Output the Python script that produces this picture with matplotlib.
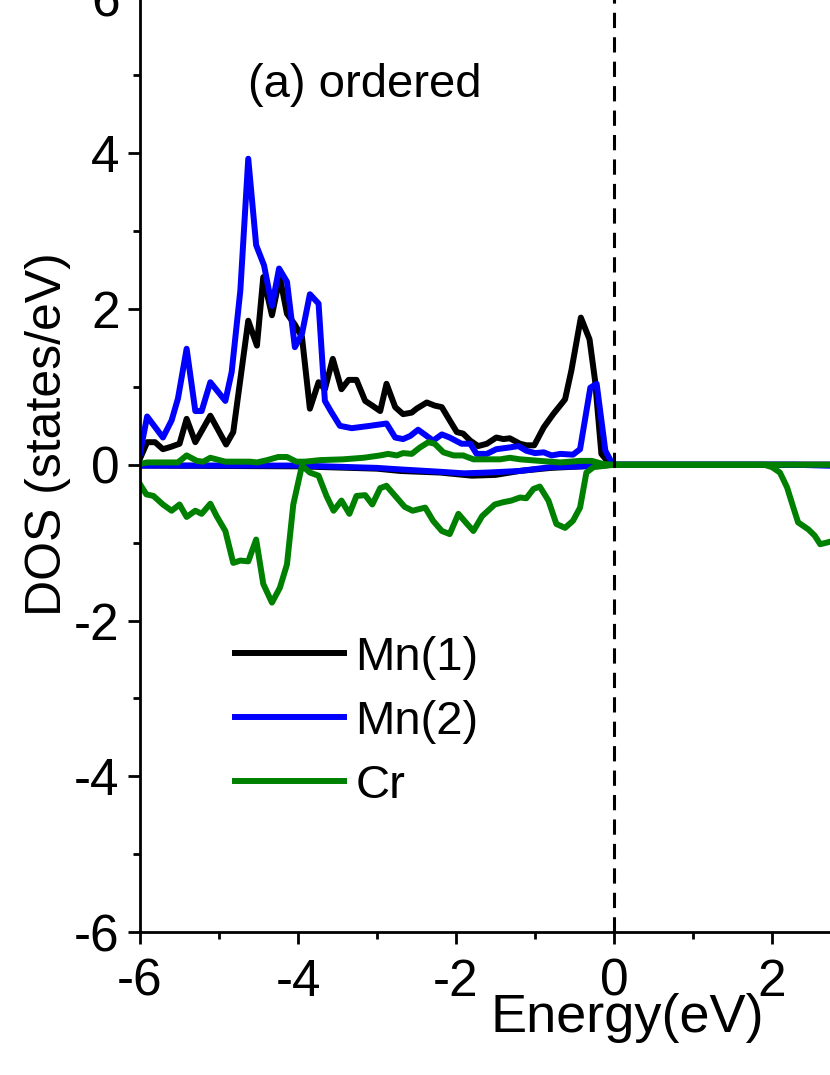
import numpy as np
import matplotlib
matplotlib.use('Agg')
import matplotlib.pyplot as plt

plt.rcParams['font.family'] = ['Liberation Sans', 'DejaVu Sans']
plt.rcParams['axes.unicode_minus'] = False

# Mn(1) spin up / down
e_mn1_up = [-6.0, -5.91, -5.81, -5.71, -5.61, -5.50, -5.41, -5.30, -5.11, -4.91, -4.82, -4.63, -4.52,
            -4.44, -4.33, -4.23, -4.14, -4.04, -3.95, -3.85, -3.74, -3.66, -3.56, -3.45, -3.36, -3.26,
            -3.15, -3.06, -2.96, -2.88, -2.77, -2.67, -2.56, -2.50, -2.37, -2.27, -2.18, -2.08, -1.99,
            -1.91, -1.82, -1.72, -1.61, -1.49, -1.40, -1.32, -1.19, -1.11, -1.01, -0.89, -0.77, -0.62,
            -0.54, -0.42, -0.31, -0.24, -0.16, -0.07, 0.0, 3.0]
dos_mn1_up = [0.08, 0.29, 0.29, 0.20, 0.23, 0.27, 0.59, 0.29, 0.63, 0.26, 0.42, 1.85, 1.53,
              2.41, 1.92, 2.41, 1.94, 1.80, 1.64, 0.72, 1.06, 0.97, 1.36, 0.97, 1.09, 1.09,
              0.82, 0.76, 0.69, 1.04, 0.74, 0.65, 0.67, 0.72, 0.80, 0.76, 0.74, 0.57, 0.42,
              0.40, 0.31, 0.24, 0.27, 0.35, 0.33, 0.34, 0.27, 0.25, 0.25, 0.48, 0.65, 0.84,
              1.21, 1.89, 1.61, 1.08, 0.14, 0.03, 0.0, 0.0]
e_mn1_dn = [-6.0, -4.0, -3.0, -2.7, -2.2, -1.8, -1.5, -1.2, -0.8, -0.4, 0.0, 3.0]
dos_mn1_dn = [-0.01, -0.02, -0.05, -0.08, -0.10, -0.14, -0.13, -0.08, -0.04, -0.02, 0.0, 0.0]

# Mn(2) spin up / down
e_mn2_up = [-6.0, -5.91, -5.71, -5.60, -5.52, -5.41, -5.30, -5.22, -5.11, -4.92, -4.84, -4.73, -4.63,
            -4.53, -4.43, -4.33, -4.24, -4.14, -4.04, -3.95, -3.85, -3.74, -3.66, -3.58, -3.47, -3.32,
            -3.09, -2.88, -2.77, -2.67, -2.58, -2.48, -2.29, -2.18, -2.08, -1.93, -1.82, -1.74, -1.61,
            -1.49, -1.34, -1.21, -1.11, -1.00, -0.89, -0.79, -0.68, -0.52, -0.43, -0.30, -0.22, -0.11,
            -0.03, 0.0, 3.0]
dos_mn2_up = [0.15, 0.62, 0.35, 0.57, 0.85, 1.49, 0.69, 0.69, 1.06, 0.82, 1.19, 2.24, 3.93,
              2.82, 2.56, 2.04, 2.52, 2.35, 1.51, 1.68, 2.19, 2.07, 0.82, 0.68, 0.50, 0.47,
              0.50, 0.53, 0.35, 0.33, 0.37, 0.45, 0.31, 0.39, 0.35, 0.27, 0.27, 0.14, 0.14,
              0.20, 0.22, 0.24, 0.18, 0.15, 0.16, 0.12, 0.14, 0.13, 0.20, 0.99, 1.04, 0.18,
              0.03, 0.0, 0.0]
e_mn2_dn = [-6.0, -4.0, -3.0, -2.7, -2.2, -1.9, -1.6, -1.2, -0.8, -0.4, 0.0, 2.3, 3.0]
dos_mn2_dn = [-0.01, -0.01, -0.04, -0.06, -0.09, -0.11, -0.10, -0.08, -0.03, -0.02, 0.0, 0.0, -0.02]

# Cr spin up / down
e_cr_up = [-6.0, -5.91, -5.52, -5.41, -5.28, -5.20, -5.11, -4.92, -4.61, -4.52, -4.39, -4.25, -4.14,
           -4.02, -3.91, -3.72, -3.43, -3.17, -2.96, -2.86, -2.75, -2.67, -2.56, -2.46, -2.35, -2.27,
           -2.16, -2.03, -1.91, -1.78, -1.44, -1.32, -1.19, -0.94, -0.68, -0.43, -0.28, -0.14, 0.0, 3.0]
dos_cr_up = [0.01, 0.03, 0.03, 0.12, 0.05, 0.04, 0.09, 0.04, 0.04, 0.03, 0.06, 0.10, 0.10,
             0.04, 0.04, 0.06, 0.07, 0.09, 0.12, 0.14, 0.12, 0.15, 0.14, 0.22, 0.29, 0.27,
             0.16, 0.12, 0.12, 0.07, 0.07, 0.09, 0.07, 0.05, 0.03, 0.05, 0.05, 0.01, 0.0, 0.0]
e_cr_dn = [-6.0, -5.92, -5.83, -5.71, -5.60, -5.50, -5.41, -5.30, -5.22, -5.11, -5.03, -4.92, -4.82,
           -4.73, -4.63, -4.53, -4.44, -4.33, -4.23, -4.14, -4.06, -3.95, -3.85, -3.74, -3.64, -3.55,
           -3.45, -3.35, -3.26, -3.15, -3.06, -2.96, -2.88, -2.77, -2.65, -2.55, -2.39, -2.29, -2.18,
           -2.08, -1.97, -1.86, -1.78, -1.67, -1.51, -1.40, -1.30, -1.19, -1.11, -1.02, -0.94, -0.83,
           -0.73, -0.62, -0.52, -0.43, -0.35, -0.26, 0.0, 1.90, 2.00, 2.10, 2.19, 2.27, 2.33, 2.46,
           2.54, 2.61, 2.69, 2.80, 3.0]
dos_cr_dn = [-0.25, -0.38, -0.40, -0.51, -0.59, -0.51, -0.67, -0.59, -0.63, -0.50, -0.66, -0.85, -1.26,
             -1.23, -1.24, -0.96, -1.53, -1.77, -1.58, -1.28, -0.51, -0.01, -0.10, -0.14, -0.40, -0.59,
             -0.46, -0.63, -0.40, -0.39, -0.51, -0.30, -0.27, -0.40, -0.54, -0.59, -0.55, -0.72, -0.85,
             -0.89, -0.63, -0.76, -0.85, -0.66, -0.51, -0.48, -0.46, -0.42, -0.43, -0.31, -0.28, -0.46,
             -0.76, -0.81, -0.72, -0.55, -0.10, -0.03, 0.0, 0.0, -0.03, -0.10, -0.29, -0.55, -0.74, -0.83,
             -0.91, -1.02, -1.00, -0.97, -0.95]

fig = plt.figure(figsize=(8.3, 10.75), dpi=100)
ax = fig.add_axes([0.1687, 0.1330, 1.1422, 0.8693])

lw = 4.3
ax.plot(e_mn1_up, dos_mn1_up, color='black', lw=lw, label='Mn(1)')
ax.plot(e_mn1_dn, dos_mn1_dn, color='black', lw=lw)
ax.plot(e_mn2_up, dos_mn2_up, color='#0000ff', lw=lw, label='Mn(2)')
ax.plot(e_mn2_dn, dos_mn2_dn, color='#0000ff', lw=lw)
ax.plot(e_cr_up, dos_cr_up, color='#008000', lw=lw, label='Cr')
ax.plot(e_cr_dn, dos_cr_dn, color='#008000', lw=lw)
ax.axvline(0, color='black', lw=2.2, dashes=(5, 3))

ax.set_xlim(-6, 6)
ax.set_ylim(-6, 6)
ax.set_xticks(np.arange(-6, 7, 2))
ax.set_xticks(np.arange(-5, 6, 2), minor=True)
ax.set_yticks(np.arange(-6, 7, 2))
ax.set_yticks(np.arange(-5, 6, 2), minor=True)
ax.tick_params(which='major', direction='out', length=8.6, width=2, labelsize=37)
ax.tick_params(which='minor', direction='out', length=5, width=2)
ax.tick_params(axis='x', which='major', pad=10)
ax.tick_params(axis='y', which='major', pad=6)
for s in ax.spines.values():
    s.set_linewidth(2)

ax.set_xlabel('Energy(eV)', fontsize=39)
ax.xaxis.set_label_coords(0.514, -0.065)
ax.set_ylabel('DOS (states/eV)', fontsize=36)
ax.yaxis.set_label_coords(-0.073, 0.533)

fig.text(248 / 830, 1 - 97 / 1075, '(a) ordered', fontsize=34, va='baseline', ha='left')

ax.legend(loc='upper left', bbox_to_anchor=(235 / 830, 1 - 636 / 1075), bbox_transform=fig.transFigure,
          frameon=False, fontsize=34, handlelength=2.3, handletextpad=0.25, labelspacing=0.42,
          borderpad=0, borderaxespad=0)

fig.savefig('out.png', dpi=100)
